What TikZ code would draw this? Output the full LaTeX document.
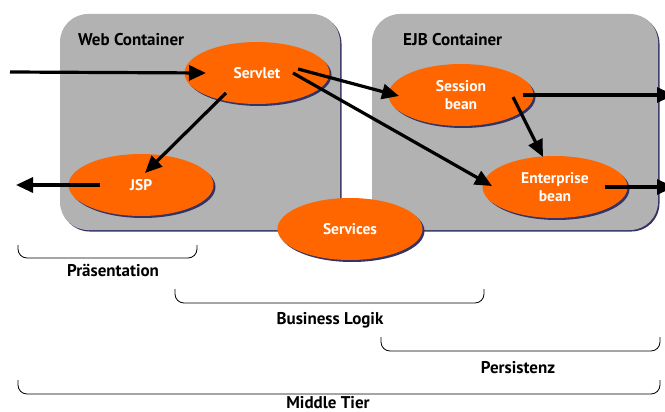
\documentclass[tikz,border=0pt]{standalone}
\usepackage{fontspec}
\setmainfont{PT Sans}
\usetikzlibrary{shapes.geometric,arrows.meta,shadows}
\definecolor{boxgray}{HTML}{B2B2B2}
\definecolor{orng}{HTML}{FF6600}
\definecolor{navy}{HTML}{333366}
\begin{document}
\begin{tikzpicture}[x=1pt,y=-1pt,
  container/.style={fill=boxgray, rounded corners=28pt,
    general shadow={shadow xshift=1.5pt, shadow yshift=-1.5pt, fill=navy}},
  comp/.style={ellipse, fill=orng, minimum width=145pt, minimum height=62pt,
    inner sep=0pt, text=white, font=\bfseries\fontsize{15.5}{18}\selectfont, align=center,
    general shadow={shadow xshift=2pt, shadow yshift=-2pt, fill=navy}},
  title/.style={font=\bfseries\fontsize{17}{19}\selectfont, inner sep=0pt},
  arr/.style={line width=3.2pt, -{Triangle[length=17pt,width=15pt]}},
  brace/.style={line width=0.8pt, rounded corners=9pt},
  tier/.style={font=\bfseries\fontsize{17}{19}\selectfont, inner sep=0pt}]
\useasboundingbox (0,0) rectangle (665,412);
\clip (0,0) rectangle (665,412);
% containers
\path[container] (60,14) rectangle (340,230);
\path[container] (372,14) rectangle (658,230);
\node[title, anchor=base west] (webt) at (78,46) {Web Container};
\node[title, anchor=base west] (ejbt) at (403,46) {EJB Container};
% components
\node[comp] (servlet) at (257,73) {Servlet};
\node[comp] (jsp) at (141,185) {JSP};
\node[comp] (session) at (461,95) {Session\\bean};
\node[comp] (enterprise) at (555,187) {Enterprise\\bean};
\node[comp] (services) at (350,229) {Services};
% free ends
\coordinate (inStart) at (10,72);
\coordinate (jspOut) at (16,185);
\coordinate (sessOut) at (674,95);
\coordinate (entOut) at (674,187);
% arrows
\draw[arr] (inStart) -- ([shift={(-51,0)}]servlet.center);
\draw[arr] ([shift={(-31,20)}]servlet.center) -- ([shift={(4,-12)}]jsp.center);
\draw[arr] ([shift={(-41,0)}]jsp.center) -- (jspOut);
\draw[arr] ([shift={(41,-4)}]servlet.center) -- ([shift={(-62,1)}]session.center);
\draw[arr] ([shift={(36,0)}]servlet.center) -- ([shift={(-63,-1)}]enterprise.center);
\draw[arr] ([shift={(52,2)}]session.center) -- ([shift={(-12,-30)}]enterprise.center);
\draw[arr] ([shift={(62,0)}]session.center) -- (sessOut);
\draw[arr] ([shift={(50,0)}]enterprise.center) -- (entOut);
% braces
\draw[brace] (18,245) -- (18,258) -- (197,258) -- (197,245);
\node[tier] (praes) at (113,270) {Präsentation};
\draw[brace] (175,289) -- (175,303) -- (484,303) -- (484,289);
\node[tier] (biz) at (330,320) {Business Logik};
\draw[brace] (381,337) -- (381,351) -- (660,351) -- (660,337);
\node[tier] (pers) at (518,368) {Persistenz};
\draw[brace] (18,380) -- (18,394) -- (660,394) -- (660,380);
\node[tier, anchor=base] (mid) at (328,408) {Middle Tier};
\end{tikzpicture}
\end{document}
